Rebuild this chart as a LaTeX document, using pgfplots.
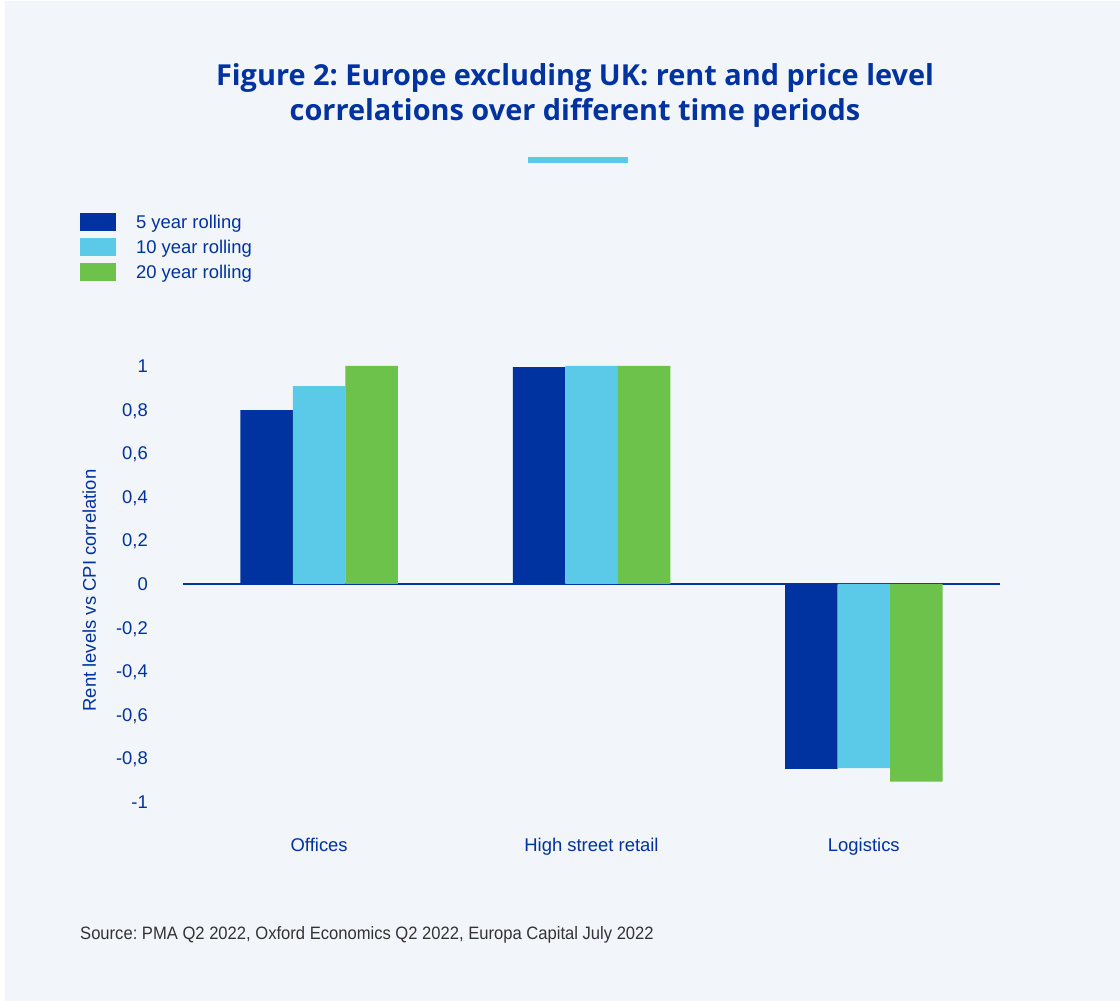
\documentclass[border=0pt]{standalone}
\usepackage{pgfplots}
\pgfplotsset{compat=1.18}
\usepackage{fontspec}
\setmainfont{Liberation Sans}
\newfontfamily\titlefont{Open Sans}
\newfontfamily\srcfont[FakeStretch=0.925]{Liberation Sans}
\definecolor{ecblue}{HTML}{0033A0}
\definecolor{eccyan}{HTML}{5BC9E8}
\definecolor{ecgreen}{HTML}{6CC24A}
\definecolor{ecbg}{HTML}{F2F5F9}
\definecolor{srcgrey}{HTML}{333333}
\frenchspacing
\pgfplotsset{
  sqlegend/.style={legend image code/.code={\fill[##1] (0bp,-9bp) rectangle (36bp,9bp); \path[draw=none,fill=none] (0bp,0bp) rectangle (56bp,0.1bp);}}
}
\begin{document}
\frenchspacing
\begin{tikzpicture}
\fill[white] (0,0) rectangle (1120bp,1001bp);
\fill[ecbg] (5bp,0) rectangle (1120bp,1000bp);
\node[font=\titlefont\bfseries\fontsize{29}{35}\selectfont, text=ecblue, anchor=base, inner sep=0pt] at (575bp,915bp) {Figure 2: Europe excluding UK: rent and price level};
\node[font=\titlefont\bfseries\fontsize{29}{35}\selectfont, text=ecblue, anchor=base, inner sep=0pt] at (575bp,880bp) {correlations over different time periods};
\draw[eccyan, line width=6bp] (528bp,841bp) -- (628bp,841bp);
\node[font=\srcfont\fontsize{18}{22}\selectfont, text=srcgrey, anchor=base west, inner sep=0pt] at (80bp,61.5bp) {Source: PMA Q2 2022, Oxford Economics Q2 2022, Europa Capital July 2022};
\begin{axis}[
  at={(183bp,177.2bp)}, anchor=south west, scale only axis,
  width=817bp, height=479.6bp,
  xmin=-0.5, xmax=2.5, ymin=-1.1, ymax=1.1,
  ybar=0pt, bar width=52.5bp,
  sqlegend,
  axis line style={draw=none}, major tick length=0pt,
  xtick={0,1,2}, xticklabels={Offices,High street retail,Logistics},
  ytick={-1,-0.8,-0.6,-0.4,-0.2,0,0.2,0.4,0.6,0.8,1},
  yticklabels={-1,{-0,8},{-0,6},{-0,4},{-0,2},0,{0,2},{0,4},{0,6},{0,8},1},
  tick label style={font=\fontsize{18.5}{22}\selectfont, text=ecblue, inner sep=0pt},
  xticklabel style={anchor=base, yshift=-27.7bp},
  yticklabel style={anchor=base east, xshift=-35bp, yshift=-6.6bp},
  ylabel={Rent levels vs CPI correlation},
  every axis y label/.style={at={(axis description cs:-0.1065,0.4864)}, anchor=base, rotate=90, font=\fontsize{18.5}{22}\selectfont, text=ecblue, inner sep=0pt},
  legend style={at={(axis description cs:-0.126,1.2736)}, anchor=north west, draw=none, fill=none, inner sep=0pt, outer sep=0pt, row sep=7bp, font=\fontsize{18.5}{22}\selectfont, text=ecblue, nodes={inner sep=0pt, text height=13bp, text depth=0pt, anchor=west}},
  legend cell align=left,
]
\draw[ecblue, line width=1.6bp] (axis cs:-0.5,0) -- (axis cs:2.5,0);
\addplot[fill=ecblue, draw=none, sqlegend] coordinates {(0,0.798) (1,0.995) (2,-0.848)};
\addplot[fill=eccyan, draw=none, sqlegend] coordinates {(0,0.908) (1,1.0) (2,-0.845)};
\addplot[fill=ecgreen, draw=none, sqlegend] coordinates {(0,1.0) (1,1.0) (2,-0.906)};
\legend{5 year rolling, 10 year rolling, 20 year rolling}
\end{axis}
\end{tikzpicture}
\end{document}
